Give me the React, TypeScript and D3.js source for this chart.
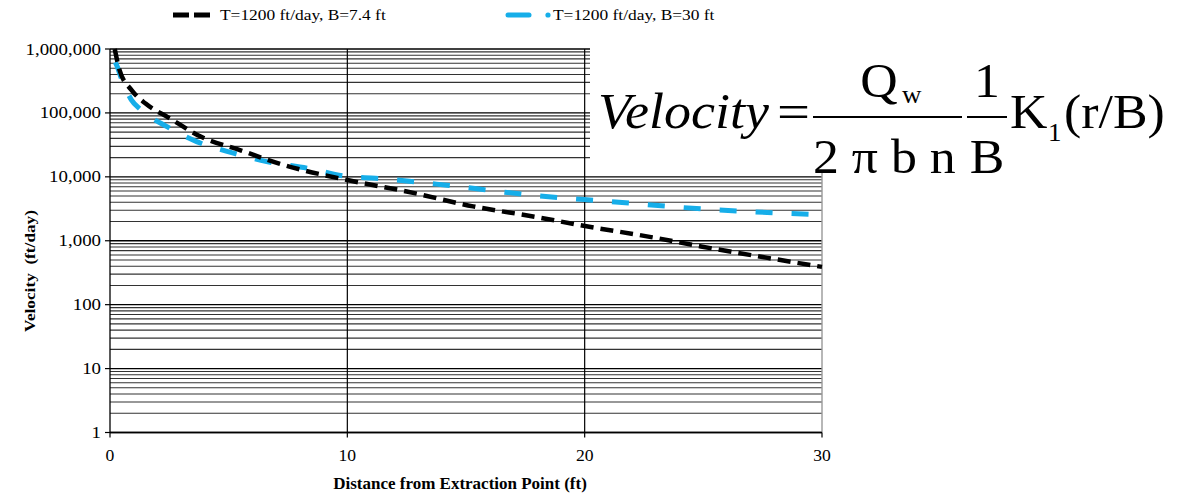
import React from 'react';
import * as d3 from 'd3';

// distance from extraction point (ft) and velocity (ft/day)
const distanceB74 = [0.2, 0.4, 0.9, 1.5, 2.5, 3.8, 5.5, 7.3, 10, 12.5, 15.3, 18, 19.7, 22.8, 24.9, 27.7, 30];
const velocityB74 = [1000000, 470000, 229000, 140000, 83000, 43000, 26000, 15400, 8900, 5900, 3450, 2340, 1780, 1140, 815, 540, 390];

const distanceB30 = [0.22, 0.28, 0.5, 0.9, 1.3, 2.4, 3.65, 5.2, 6.6, 8.3, 10, 11.2, 14.3, 17.4, 19, 20.5, 25.2, 30];
const velocityB30 = [620000, 560000, 330000, 160000, 112000, 61000, 35600, 23500, 17300, 13700, 10100, 9500, 7300, 5350, 4700, 4270, 3100, 2550];

const seriesNames = ['T=1200 ft/day, B=7.4 ft', 'T=1200 ft/day, B=30 ft'];
const xTicks = [0, 10, 20, 30];
const yTicks = [1, 10, 100, 1000, 10000, 100000, 1000000];

const SERIF = 'Liberation Serif';

const T = ({ x, y, sx = 1, rot = 0, anchor = 'start', size = 16, weight = 'normal', italic = false, children }: any) => (
  <text
    transform={`translate(${x},${y}) rotate(${rot}) scale(${sx},1)`}
    textAnchor={anchor}
    fill="#000"
    style={{ fontFamily: SERIF, fontSize: size, fontWeight: weight, fontStyle: italic ? 'italic' : 'normal' }}
  >
    {children}
  </text>
);

export default function App() {
  const x = d3.scaleLinear().domain([0, 30]).range([110, 822]);
  const y = d3.scaleLog().domain([1, 1000000]).range([432.5, 49]);

  const line = d3.line<[number, number]>()
    .x(d => x(d[0]))
    .y(d => y(d[1]))
    .curve(d3.curveMonotoneX);

  const dataB74 = distanceB74.map((r, i) => [r, velocityB74[i]] as [number, number]);
  const dataB30 = distanceB30.map((r, i) => [r, velocityB30[i]] as [number, number]);

  const grid = y.ticks();
  const fmt = d3.format(',');
  const eq = 1.08; // equation glyphs are a little wide in the original

  return (
    <svg width={1200} height={496} style={{ position: 'absolute', left: 0, top: 0, background: '#fff' }}>
      {/* horizontal gridlines */}
      {grid.map(v => {
        const major = yTicks.includes(v);
        return (
          <line key={'g' + v} x1={x(0)} x2={x(30)} y1={y(v)} y2={y(v)}
            stroke={major ? '#000' : '#333'} strokeWidth={major ? 1.4 : 1.1} />
        );
      })}
      {/* vertical gridlines */}
      {xTicks.slice(1, 3).map(v => (
        <line key={'vx' + v} x1={x(v)} x2={x(v)} y1={y(1000000)} y2={y(1)} stroke="#000" strokeWidth={1.2} />
      ))}
      <line x1={x(30)} x2={x(30)} y1={y(1000000)} y2={y(1)} stroke="#999" strokeWidth={1.4} />

      {/* axes */}
      <line x1={x(0)} x2={x(0)} y1={y(1000000)} y2={y(1)} stroke="#000" strokeWidth={1.3} />
      <line x1={x(0)} x2={x(30)} y1={y(1)} y2={y(1)} stroke="#000" strokeWidth={1.3} />
      {yTicks.map(v => (
        <g key={'yt' + v}>
          <line x1={x(0) - 5} x2={x(0)} y1={y(v)} y2={y(v)} stroke="#000" strokeWidth={1.2} />
          <T x={101} y={y(v) + 5.5} anchor="end" size={16} sx={1.18}>{fmt(v)}</T>
        </g>
      ))}
      {xTicks.map(v => (
        <g key={'xt' + v}>
          <line x1={x(v)} x2={x(v)} y1={y(1)} y2={y(1) + 5} stroke="#000" strokeWidth={1.2} />
          <T x={x(v)} y={461} anchor="middle" size={16} sx={1.1}>{v}</T>
        </g>
      ))}

      <T x={460} y={489} anchor="middle" size={17} weight="bold">Distance from Extraction Point (ft)</T>
      <T x={35} y={271} rot={-90} anchor="middle" size={15} weight="bold" sx={1.15}>{'Velocity\u00a0\u00a0(ft/day)'}</T>

      {/* series */}
      <path d={line(dataB30) || ''} fill="none" stroke="#16aee9" strokeWidth={5} strokeDasharray="17,19" />
      <path d={line(dataB74) || ''} fill="none" stroke="#000" strokeWidth={4.5} strokeDasharray="13,7" />

      {/* legend */}
      <line x1={173} x2={210} y1={15} y2={15} stroke="#000" strokeWidth={5} strokeDasharray="16,5" strokeLinecap="butt" />
      <T x={220} y={20} size={14.5} sx={1.2}>{seriesNames[0]}</T>
      <line x1={508} x2={529} y1={15} y2={15} stroke="#16aee9" strokeWidth={5} strokeLinecap="round" />
      <circle cx={548} cy={15} r={2.6} fill="#16aee9" />
      <T x={553} y={20} size={14.5} sx={1.2}>{seriesNames[1]}</T>

      {/* equation panel */}
      <rect x={590} y={38} width={610} height={135} fill="#fff" />
      <T x={598} y={128} size={51} sx={1.06} italic>Velocity</T>
      <T x={777} y={128} size={48} sx={1.22}>=</T>
      <line x1={813} x2={962} y1={117} y2={117} stroke="#000" strokeWidth={2} />
      <T x={879} y={97} anchor="middle" size={48} sx={eq}>Q</T>
      <T x={902} y={103} size={25} sx={eq}>w</T>
      <T x={813} y={173} size={48} sx={eq}>{'2 \u03c0 b n'}</T>
      <line x1={967} x2={1007} y1={117} y2={117} stroke="#000" strokeWidth={2} />
      <T x={987} y={97} anchor="middle" size={48} sx={eq}>1</T>
      <T x={987} y={173} anchor="middle" size={48} sx={eq}>B</T>
      <T x={1010} y={128} size={48} sx={eq}>K</T>
      <T x={1048} y={141} size={25} sx={eq}>1</T>
      <T x={1064} y={128} size={48} sx={eq}>(r/B)</T>
    </svg>
  );
}
